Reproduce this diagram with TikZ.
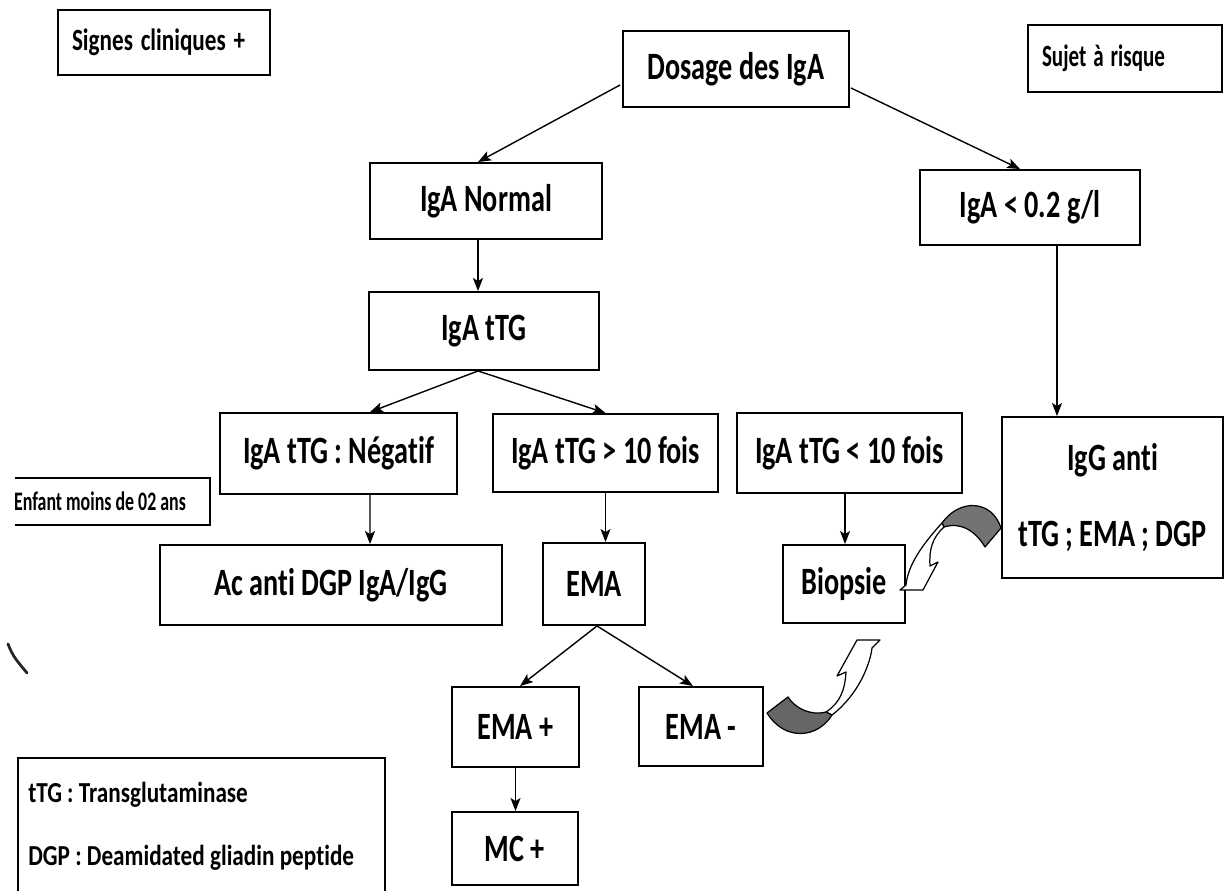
\documentclass[tikz,border=0pt]{standalone}
\usepackage{fontspec}
\setmainfont{Carlito}[Ligatures=NoCommon]
\usepackage{graphicx}
\usetikzlibrary{arrows.meta,calc}
\newcommand\sx[2][0.73]{\scalebox{#1}[1]{#2}}
\begin{document}
\begin{tikzpicture}[x=0.02cm,y=-0.02cm,
  box/.style={draw, line width=1.1pt, inner sep=0pt, align=center, font=\fontsize{22}{43}\selectfont\bfseries},
  lbl/.style={draw, line width=1.1pt, inner sep=0pt, align=left, font=\fontsize{17.6}{20}\selectfont\bfseries},
  conn/.style={line width=0.8pt, -{Stealth[length=0.26cm,width=0.2cm,inset=0.06cm]}},
  curv/.style={draw=black, line width=0.7pt, line join=round}]
\clip (0,0) rectangle (1225,891);
\fill[white] (0,0) rectangle (1225,891);

% label boxes
\node[lbl, minimum height=1.30cm, text width=3.68cm, inner xsep=0.28cm] (sig) at (164,42.5) {\sx[0.75]{Signes cliniques +}};
\node[lbl, minimum height=1.34cm, text width=3.32cm, inner xsep=0.28cm] (suj) at (1125,58.5) {\sx[0.68]{Sujet à risque}};

% main boxes
\node[box, minimum width=4.52cm, minimum height=1.52cm] (dos) at (736,69) {\sx{Dosage des IgA}};
\node[box, minimum width=4.64cm, minimum height=1.52cm] (norm) at (486,201) {\sx{IgA Normal}};
\node[box, minimum width=4.40cm, minimum height=1.50cm] (low) at (1030,207.5) {\sx{IgA < 0.2 g/l}};
\node[box, minimum width=4.60cm, minimum height=1.56cm] (ttg) at (484,331) {\sx{IgA tTG}};
\node[box, minimum width=4.74cm, minimum height=1.62cm] (neg) at (338.5,453.5) {\sx{IgA tTG : Négatif}};
\node[box, minimum width=4.50cm, minimum height=1.56cm] (gt) at (605.5,453) {\sx{IgA tTG > 10 fois}};
\node[box, minimum width=4.50cm, minimum height=1.60cm] (lt) at (849.5,453) {\sx{IgA tTG < 10 fois}};
\node[box, minimum width=4.42cm, minimum height=3.22cm] (igg) at (1112.5,497.5) {\sx{IgG anti}\\\sx{tTG ; EMA ; DGP}};
\node[box, minimum width=6.84cm, minimum height=1.60cm] (ac) at (331,585) {\sx{Ac anti DGP IgA/IgG}};
\node[box, minimum width=2.04cm, minimum height=1.64cm] (ema) at (594,584) {\sx{EMA}};
\node[box, minimum width=2.44cm, minimum height=1.56cm] (bio) at (844,584) {\sx{Biopsie}};
\node[box, minimum width=2.54cm, minimum height=1.60cm] (emap) at (515.5,727) {\sx{EMA +}};
\node[box, minimum width=2.48cm, minimum height=1.58cm] (emam) at (701,726.5) {\sx{EMA -}};
\node[box, minimum width=2.52cm, minimum height=1.46cm] (mc) at (515,848.5) {\sx{MC +}};

% Enfant label (open on the left)
\node[font=\fontsize{15.2}{18}\selectfont\bfseries, inner sep=0pt] (enf) at (100,501) {\sx[0.67]{Enfant moins de 02 ans}};
\draw[line width=1.1pt] (15,478) -- (210,478) -- (210,525) -- (15,525);

% legend
\draw[line width=1.1pt] (18,758) rectangle (385,940);
\node[anchor=west, font=\fontsize{16.5}{20}\selectfont\bfseries, inner sep=0pt] (leg1) at (28,795) {\sx[0.8]{tTG : Transglutaminase}};
\node[anchor=west, font=\fontsize{16.5}{20}\selectfont\bfseries, inner sep=0pt] (leg2) at (28,858) {\sx[0.8]{DGP : Deamidated gliadin peptide}};

% connectors
\draw[conn] ($(dos.west)+(-2,16)$) -- ($(norm.north)+(-8,0)$);
\draw[conn] ($(dos.east)+(1,19)$) -- ($(low.north)+(-10,0)$);
\draw[conn] ($(norm.south)+(-8,0)$) -- ($(ttg.north)+(-6,0)$);
\draw[conn] ($(ttg.south)+(-6,0)$) -- ($(neg.north)+(31.5,0)$);
\draw[conn] ($(ttg.south)+(-6,0)$) -- (gt.north);
\draw[conn] ($(neg.south)+(31.5,0)$) -- ($(ac.north)+(39,0)$);
\draw[conn] (gt.south) -- ($(ema.north)+(11.5,0)$);
\draw[conn] ($(lt.south)+(-4.5,0)$) -- ($(bio.north)+(1,0)$);
\draw[conn] ($(low.south)+(27,0)$) -- ($(igg.north)+(-55.5,0)$);
\draw[conn] ($(ema.south)+(3,0)$) -- ($(emap.north)+(4.5,0)$);
\draw[conn] ($(ema.south)+(3,0)$) -- ($(emam.north)+(-8,0)$);
\draw[conn] (emap.south) -- (emap.south |- mc.north);

% curved block arrow: IgG anti -> Biopsie
\path[curv, fill=black!55] (942,523) .. controls (960,498) and (992,500) .. (1001,528)
  -- (985,547) .. controls (975,530) and (960,522) .. (944,527) -- cycle;
\path[curv, fill=white] (942,523) .. controls (922,545) and (908,565) .. (906,585)
  -- (900,590) -- (923,590) -- (938,562) -- (930,566)
  .. controls (929,550) and (932,538) .. (944,527) -- cycle;

% curved block arrow: EMA - -> Biopsie
\path[curv, fill=white] (832,715) .. controls (858,695) and (870,665) .. (872,648)
  -- (880,640) -- (857,640) -- (837,676) -- (846,672)
  .. controls (845,690) and (840,703) .. (826,712) -- cycle;
\path[curv, fill=black!60] (788,697) -- (767,713) .. controls (785,742) and (818,738) .. (832,715)
  -- (826,712) .. controls (810,716) and (795,708) .. (788,697) -- cycle;

% stray pen mark
\draw[line width=1.6pt, line cap=round, black!85] (8,644) .. controls (13,656) .. (27,673);
\end{tikzpicture}
\end{document}
